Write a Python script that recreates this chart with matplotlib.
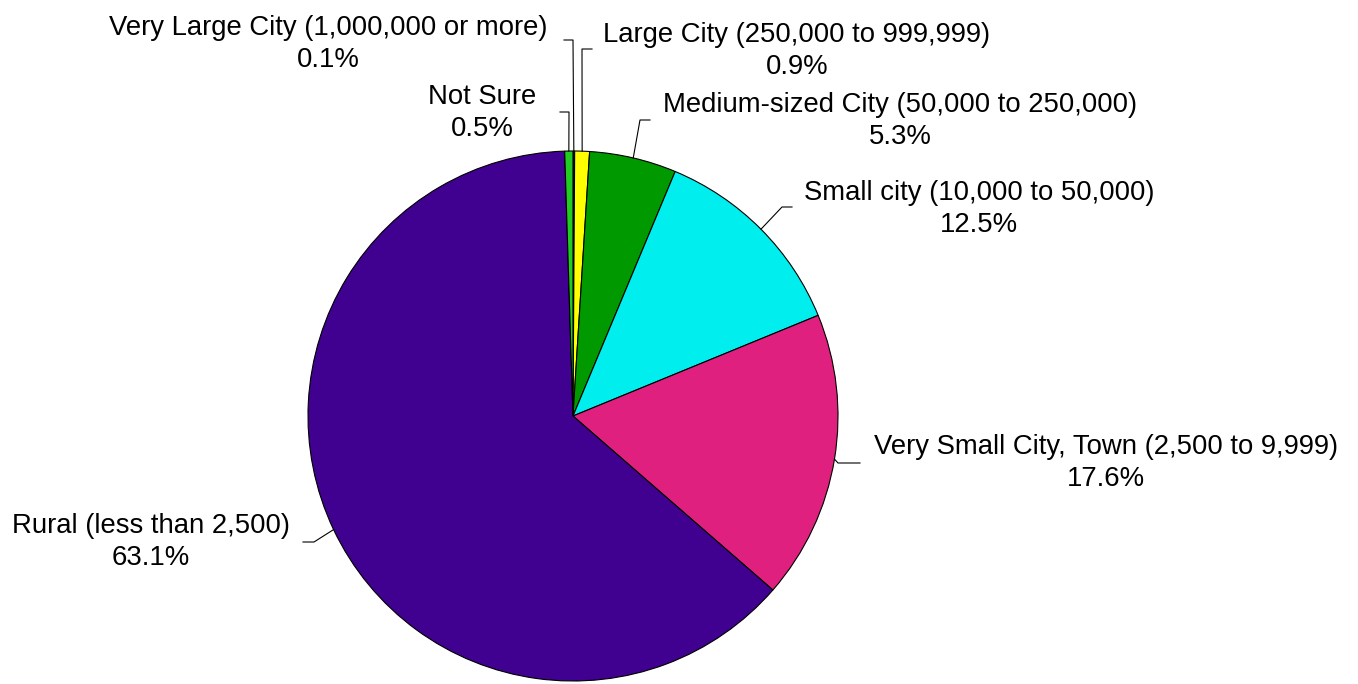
import numpy as np
import matplotlib.pyplot as plt

plt.rcParams['font.family'] = ['Liberation Sans', 'DejaVu Sans']

# data, clockwise from 12 o'clock
labels = ["Very Large City (1,000,000 or more)", "Large City (250,000 to 999,999)",
          "Medium-sized City (50,000 to 250,000)", "Small city (10,000 to 50,000)",
          "Very Small City, Town (2,500 to 9,999)", "Rural (less than 2,500)", "Not Sure"]
values = [0.1, 0.9, 5.3, 12.5, 17.6, 63.1, 0.5]
colors = ["#000080", "#FFFF00", "#009900", "#00EEEE", "#E0207F", "#400090", "#22CC22"]

# label layout in pixels (text centre, elbow of leader, end of horizontal)
text_pos = [(328, 44), (797, 51), (900, 121), (979, 209), (1106, 463), (151, 542), (482, 113)]
elbows = [(573, 40), (582, 49), (640, 120), (782, 207), (838, 463), (314, 542), (569, 112)]
ends = [564, 592, 650, 792, 860, 303, 560]

W, H = 1358, 684
cx, cy, r = 573, 416, 265

fig = plt.figure(figsize=(W / 100, H / 100), dpi=100)
ax = fig.add_axes([0, 0, 1, 1])
ax.set_xlim(0, W)
ax.set_ylim(0, H)
ax.axis('off')

wedges, _ = ax.pie(values, colors=colors, startangle=90, counterclock=False,
                   center=(cx, H - cy), radius=r,
                   wedgeprops=dict(edgecolor='black', linewidth=0.8))
ax.set_xlim(0, W)
ax.set_ylim(0, H)
ax.set_aspect('equal')

for w, lab, v, tp, el, ex in zip(wedges, labels, values, text_pos, elbows, ends):
    ang = np.deg2rad((w.theta1 + w.theta2) / 2)
    px = cx + r * np.cos(ang)
    py = (H - cy) + r * np.sin(ang)
    ax.plot([px, el[0], ex], [py, H - el[1], H - el[1]], color='black', lw=0.8)
    ax.text(tp[0], H - tp[1], f"{lab}\n{v:.1f}%", ha='center', va='center',
            fontsize=19.8, linespacing=1.32)

plt.savefig("out.png", dpi=100)
